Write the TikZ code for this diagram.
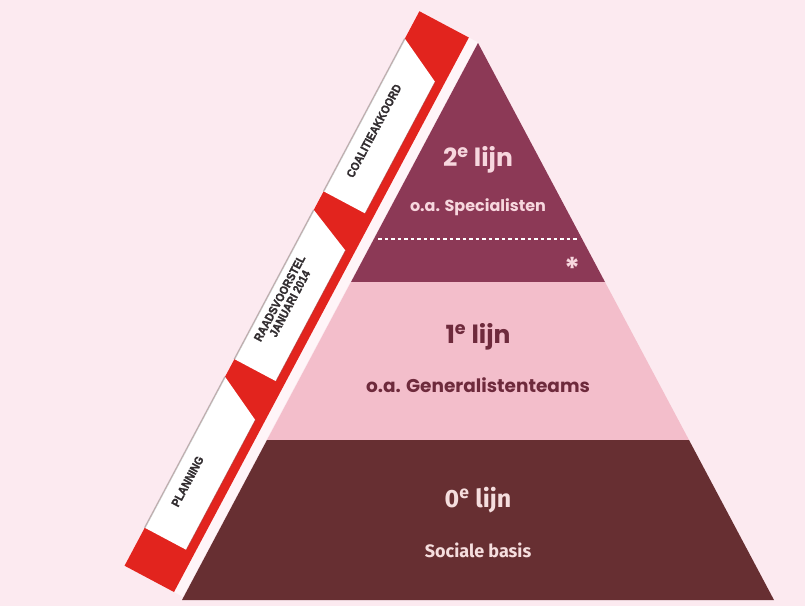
\documentclass[tikz,border=0pt]{standalone}
\usepackage{fontspec}
\setmainfont{Poppins}
\newfontfamily\tabfont[FakeStretch=0.88,FakeBold=1.2]{Liberation Sans}
\newfontfamily\basefont{Fira Sans}

\definecolor{bgpink}{RGB}{252,234,240}
\definecolor{gapwhite}{RGB}{255,245,248}
\definecolor{bandred}{RGB}{226,36,30}
\definecolor{bandshade}{RGB}{160,30,30}
\definecolor{tiertop}{RGB}{140,57,86}
\definecolor{tiermid}{RGB}{243,190,203}
\definecolor{tierbase}{RGB}{103,47,50}
\definecolor{toptext}{RGB}{247,215,222}
\definecolor{midtext}{RGB}{110,42,60}
\definecolor{basetext}{RGB}{245,222,222}
\definecolor{tabtext}{RGB}{50,45,48}

\begin{document}
\begin{tikzpicture}[x=1pt,y=-1pt,
  tier/.style={font=\bfseries\fontsize{25}{25}\selectfont, inner sep=0pt},
  sub/.style={font=\bfseries\fontsize{#1}{#1}\selectfont, inner sep=0pt},
  basetier/.style={font=\basefont\bfseries\fontsize{25}{25}\selectfont, inner sep=0pt, text=basetext},
  basesub/.style={font=\basefont\bfseries\fontsize{18}{18}\selectfont, inner sep=0pt, text=basetext},
  tablabel/.style={rotate=62, font=\tabfont\bfseries\fontsize{12}{11.5}\selectfont,
                   text=tabtext, align=center, inner sep=0pt},
  tabpaper/.style={fill=white},
  tabedge/.style={draw=black!45, draw opacity=0.5, line width=1.6pt},
  tabinner/.style={draw=bandshade, draw opacity=0.6, line width=0.7pt}]

\useasboundingbox (0,0) rectangle (805,606);
\fill[bgpink] (0,0) rectangle (805,606);

% timeline band, laid out along the left flank of the pyramid
% (s runs along the band, t runs outwards to the left)
\begin{scope}[shift={(174,592)}]
\begin{scope}[x={(0.4695pt,0.8829pt)}, y={(-0.8829pt,0.4695pt)}]
  \fill[gapwhite] (0,-10) -- (628,-10) -- (628,0) -- (0,0) -- cycle;
  \fill[bandred] (0,0) -- (628,0) -- (628,56) -- (0,56) -- cycle;
  % paper tabs
  \fill[tabpaper] (43,9) -- (43,56) -- (214,56) -- (190,9) -- cycle;
  \fill[tabpaper] (234,9) -- (234,56) -- (403,56) -- (382,9) -- cycle;
  \fill[tabpaper] (424,9) -- (424,56) -- (597,56) -- (573,9) -- cycle;
  \draw[tabedge] (43,56) -- (214,56);
  \draw[tabedge] (234,56) -- (403,56);
  \draw[tabedge] (424,56) -- (597,56);
  \draw[tabinner] (43,9) -- (190,9);
  \draw[tabinner] (234,9) -- (382,9);
  \draw[tabinner] (424,9) -- (573,9);
  \node[tablabel] (planning) at (104,40) {PLANNING};
  \node[tablabel] (raadsvoorstel) at (309,39) {RAADSVOORSTEL\\JANUARI 2014};
  \node[tablabel] (coalitie) at (501,40) {COALITIEAKKOORD};
\end{scope}
\end{scope}

% pyramid tiers
\fill[tiertop] (478,43) -- (605,282) -- (351,282) -- cycle;
\fill[tiermid] (351,282) -- (605,282) -- (689,440) -- (267,440) -- cycle;
\fill[tierbase] (267,440) -- (689,440) -- (774,600) -- (182,600) -- cycle;

% split inside the top tier
\draw[white, line width=1.6pt, dash pattern=on 3.5pt off 3pt] (378,239) -- (578,239);
\node[font=\bfseries\fontsize{30}{30}\selectfont, text=toptext, inner sep=0pt] (star) at (573,268) {*};

% tier labels
\node[tier, text=toptext] (second) at (478,160) {2\textsuperscript{e} lijn};
\node[sub=16, text=toptext] (secondsub) at (478,207) {o.a. Specialisten};
\node[tier, text=midtext] (first) at (478,337) {1\textsuperscript{e} lijn};
\node[sub=18.5, text=midtext] (firstsub) at (478,385) {o.a. Generalistenteams};
\node[basetier] (zero) at (478,500) {0\textsuperscript{e} lijn};
\node[basesub] (zerosub) at (478,550) {Sociale basis};
\end{tikzpicture}
\end{document}
